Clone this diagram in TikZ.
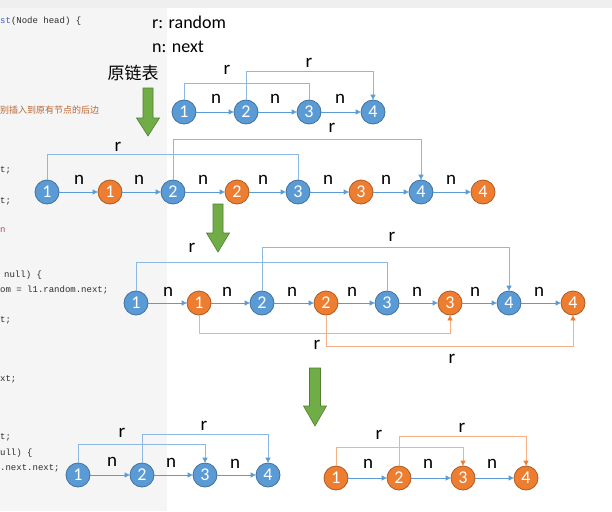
\documentclass[tikz,border=0pt]{standalone}
\usepackage{fontspec}
\setmainfont{Carlito}
\newfontfamily\cjk{Noto Sans CJK SC}
\newfontfamily\codefont{Liberation Mono}
\usetikzlibrary{arrows.meta}
\definecolor{nb}{HTML}{5B9BD5}
\definecolor{nbd}{HTML}{41719C}
\definecolor{no}{HTML}{ED7D31}
\definecolor{nod}{HTML}{AE5A21}
\definecolor{rb}{HTML}{8DB8E2}
\definecolor{ro}{HTML}{F4B183}
\definecolor{gf}{HTML}{70AD47}
\definecolor{gd}{HTML}{507E32}
\definecolor{codegray}{HTML}{2E2E2E}
\definecolor{codeblue}{HTML}{3F5FBF}
\definecolor{codeorange}{HTML}{B8652F}
\definecolor{codered}{HTML}{B05050}
\definecolor{panelgray}{HTML}{F5F5F5}
\definecolor{topgray}{HTML}{EFEFEF}
\begin{document}
\begin{tikzpicture}[x=1pt,y=-1pt,
  bn/.style={circle,draw=nbd,fill=nb,line width=0.8pt,minimum size=24pt,inner sep=0pt,text=white,font=\fontsize{18}{18}\selectfont},
  on/.style={bn,draw=nod,fill=no},
  nx/.style={draw=nb,line width=0.8pt,-{Triangle[length=5pt,width=5pt]}},
  rbl/.style={draw=rb,line width=0.8pt},
  rba/.style={rbl,-{Triangle[length=5pt,width=5pt,color=nb]}},
  rol/.style={draw=ro,line width=0.8pt},
  roa/.style={rol,-{Triangle[length=5pt,width=5pt,color=no]}},
  lab/.style={font=\fontsize{19}{19}\selectfont,inner sep=0pt},
  leg/.style={font=\fontsize{18}{18}\selectfont,inner sep=0pt,anchor=west},
  code/.style={font=\codefont\fontsize{9}{9}\selectfont,text=codegray,anchor=west,inner sep=0pt},
  garrow/.style={fill=gf,draw=gd,line width=0.6pt}
]
\useasboundingbox (0,0) rectangle (612,511);
\fill[white] (0,0) rectangle (612,511);
\fill[topgray] (0,0) rectangle (612,8);
\fill[panelgray] (0,8) rectangle (167,511);

% code fragments
\node[code] (c1) at (0,21) {\textcolor{codeblue}{st}(Node head) \{};
\node[code,font=\cjk\fontsize{9}{9}\selectfont,text=codeorange] (c2) at (0,110) {别插入到原有节点的后边};
\node[code] (c3) at (0,170) {t;};
\node[code] (c4) at (0,201) {t;};
\node[code,text=codered] (c5) at (0,230) {n};
\node[code] (c6) at (4,275) {null) \{};
\node[code] (c7) at (0,290) {om = l1.random.next;};
\node[code] (c8) at (0,320) {t;};
\node[code] (c9) at (0,379) {xt;};
\node[code] (c10) at (0,437) {t;};
\node[code] (c11) at (0,453) {ull) \{};
\node[code] (c12) at (0,468) {.next.next;};

% legend
\node[leg] (lr) at (152,22) {r: random};
\node[leg] (ln) at (152,47) {n: next};
\node[font=\cjk\fontsize{17}{17}\selectfont,inner sep=0pt] (title) at (133,73) {原链表};

% green arrows
\draw[garrow] (143,88) -- (153,88) -- (153,118) -- (159.5,118) -- (148,136) -- (136.5,118) -- (143,118) -- cycle;
\draw[garrow] (213,204) -- (223,204) -- (223,233) -- (229.5,233) -- (218,252) -- (206.5,233) -- (213,233) -- cycle;
\draw[garrow] (309.5,368) -- (320.5,368) -- (320.5,406) -- (326.5,406) -- (315,426) -- (303.5,406) -- (309.5,406) -- cycle;

% row 1
\node[bn] (a1) at (184,112) {1};
\node[bn] (a2) at (246,112) {2};
\node[bn] (a3) at (309,112) {3};
\node[bn] (a4) at (373,112) {4};
\draw[nx] (a1) -- (a2);
\draw[nx] (a2) -- (a3);
\draw[nx] (a3) -- (a4);
\draw[rbl] (a1.north) -- (a1.north |- 0,83) -| (a3.north);
\draw[rba] (a2.north) -- (a2.north |- 0,71) -| (a4.north);
\node[lab] at (227,70) {r};
\node[lab] at (309,63) {r};
\node[lab] at (216,99) {n};
\node[lab] at (275,99) {n};
\node[lab] at (340,99) {n};

% row 2
\node[bn] (p1) at (47,192) {1};
\node[on] (q1) at (110,192) {1};
\node[bn] (p2) at (173,192) {2};
\node[on] (q2) at (237,192) {2};
\node[bn] (p3) at (298,192) {3};
\node[on] (q3) at (361,192) {3};
\node[bn] (p4) at (421,192) {4};
\node[on] (q4) at (483,192) {4};
\draw[nx] (p1) -- (q1);
\draw[nx] (q1) -- (p2);
\draw[nx] (p2) -- (q2);
\draw[nx] (q2) -- (p3);
\draw[nx] (p3) -- (q3);
\draw[nx] (q3) -- (p4);
\draw[nx] (p4) -- (q4);
\draw[rbl] (p1.north) -- (p1.north |- 0,154) -| (p3.north);
\draw[rba] (p2.north) -- (p2.north |- 0,139) -| (p4.north);
\node[lab] at (118,147) {r};
\node[lab] at (332,128) {r};
\foreach \x in {79,139,203,263,328,386,451} \node[lab] at (\x,180) {n};

% row 3
\node[bn] (s1) at (136,303) {1};
\node[on] (t1) at (199,303) {1};
\node[bn] (s2) at (262,303) {2};
\node[on] (t2) at (326,303) {2};
\node[bn] (s3) at (387,303) {3};
\node[on] (t3) at (450,303) {3};
\node[bn] (s4) at (509,303) {4};
\node[on] (t4) at (573,303) {4};
\draw[nx] (s1) -- (t1);
\draw[nx] (t1) -- (s2);
\draw[nx] (s2) -- (t2);
\draw[nx] (t2) -- (s3);
\draw[nx] (s3) -- (t3);
\draw[nx] (t3) -- (s4);
\draw[nx] (s4) -- (t4);
\draw[rbl] (s1.north) -- (s1.north |- 0,262) -| (s3.north);
\draw[rba] (s2.north) -- (s2.north |- 0,247) -| (s4.north);
\draw[roa] (t1.south) -- (t1.south |- 0,333) -| (t3.south);
\draw[roa] (t2.south) -- (t2.south |- 0,346) -| (t4.south);
\node[lab] at (192,248) {r};
\node[lab] at (392,237) {r};
\node[lab] at (317,345) {r};
\node[lab] at (452,359) {r};
\foreach \x in {168,227,292,352,417,475,539} \node[lab] at (\x,292) {n};

% row 4 left
\node[bn] (u1) at (78,475) {1};
\node[bn] (u2) at (142,475) {2};
\node[bn] (u3) at (205,475) {3};
\node[bn] (u4) at (268,475) {4};
\draw[nx] (u1) -- (u2);
\draw[nx] (u2) -- (u3);
\draw[nx] (u3) -- (u4);
\draw[rba] (u1.north) -- (u1.north |- 0,444) -| (u3.north);
\draw[rba] (u2.north) -- (u2.north |- 0,434) -| (u4.north);
\node[lab] at (122,433) {r};
\node[lab] at (204,426) {r};
\node[lab] at (112,462) {n};
\node[lab] at (171,463) {n};
\node[lab] at (235,464) {n};

% row 4 right
\node[on] (v1) at (336,478) {1};
\node[on] (v2) at (399,478) {2};
\node[on] (v3) at (463,478) {3};
\node[on] (v4) at (526,478) {4};
\draw[nx] (v1) -- (v2);
\draw[nx] (v2) -- (v3);
\draw[nx] (v3) -- (v4);
\draw[roa] (v1.north) -- (v1.north |- 0,447) -| (v3.north);
\draw[roa] (v2.north) -- (v2.north |- 0,436) -| (v4.north);
\node[lab] at (379,435) {r};
\node[lab] at (462,428) {r};
\node[lab] at (368,464) {n};
\node[lab] at (428,464) {n};
\node[lab] at (492,464) {n};
\end{tikzpicture}
\end{document}
